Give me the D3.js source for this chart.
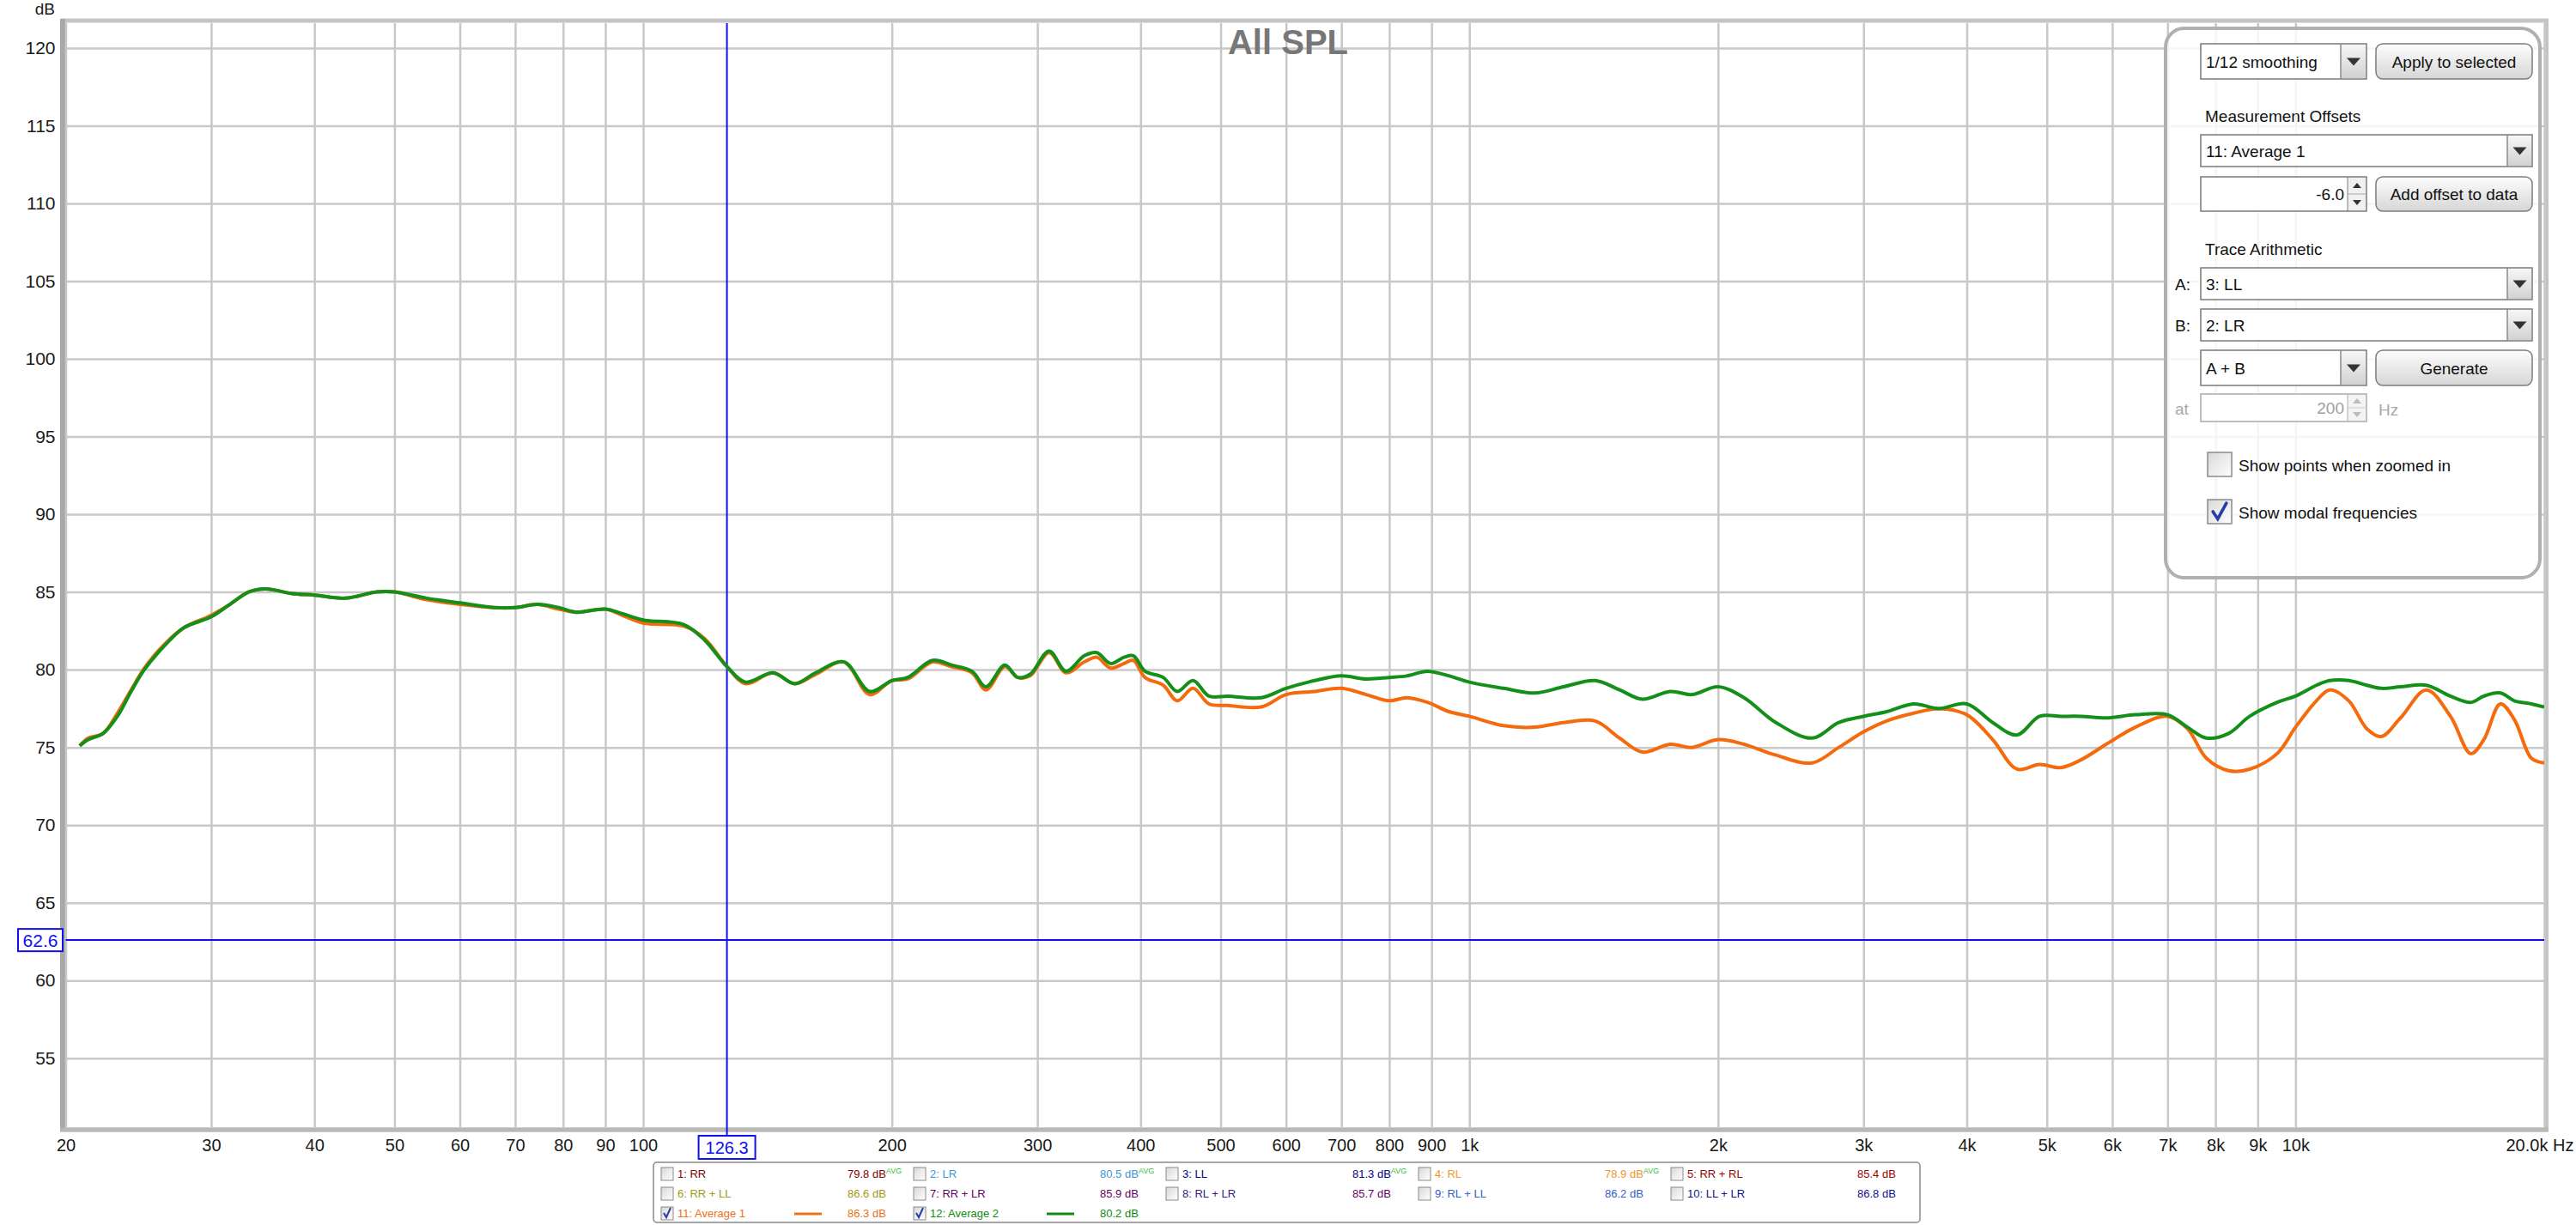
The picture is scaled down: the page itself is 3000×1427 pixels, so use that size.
<!DOCTYPE html>
<html><head><meta charset="utf-8">
<script src="https://cdn.jsdelivr.net/npm/d3@7"></script>
<style>
html,body{margin:0;padding:0;background:#fff;}
svg{display:block;font-family:"Liberation Sans",Arial,sans-serif;}
</style></head>
<body>
<svg id="chart" width="3000" height="1427"></svg>
<script>
// ---------------- data ----------------
const freqHz = [20.8,21.3,22.2,23.1,24,24.9,26.3,27.8,30,31.6,33.3,34.9,37.6,40,43.6,47.6,50,54.7,60,66,70,74.5,79,83,90,94.4,100,112,118.7,126.3,133,143.6,152.6,161.7,175,188,200,209,224,236,250,260,274,284,294,310,325,342,354,368,382,392,405,426,443,463,484,510,560,600,650,700,750,800,840,890,945,1000,1100,1200,1300,1420,1520,1620,1750,1860,2000,2150,2350,2600,2800,3000,3200,3450,3700,4000,4300,4600,4900,5200,5500,5900,6400,7000,7400,7800,8300,8800,9500,10000,10600,11000,11600,12200,12700,13400,14400,15400,16300,16900,17700,18400,19300,20000];
const average1Db = [75.1,75.6,75.9,77.2,78.7,80.1,81.6,82.7,83.5,84.2,85.0,85.2,84.9,84.8,84.6,85.0,85.0,84.5,84.2,84.0,84.0,84.2,83.9,83.7,83.9,83.5,83.0,82.8,82.0,80.2,79.1,79.8,79.1,79.7,80.5,78.4,79.3,79.4,80.5,80.2,79.8,78.7,80.2,79.5,79.6,81.1,79.8,80.5,80.8,80.1,80.4,80.6,79.5,79.0,78.0,78.8,77.8,77.7,77.6,78.4,78.6,78.8,78.4,78.0,78.2,77.9,77.3,77.0,76.4,76.3,76.6,76.7,75.6,74.7,75.2,75.0,75.5,75.2,74.5,74.0,75.0,76.0,76.7,77.2,77.5,77.1,75.5,73.6,73.9,73.7,74.2,75.2,76.3,77.0,76.2,74.3,73.5,73.6,74.6,76.3,78.0,78.7,78.0,76.2,75.7,76.9,78.7,77.0,74.6,75.5,77.8,76.8,74.3,74.0];
const average2Db = [75.1,75.5,75.9,77.0,78.6,80.0,81.5,82.7,83.4,84.2,85.0,85.2,84.9,84.8,84.6,85.0,85.0,84.6,84.3,84.0,84.0,84.2,84.0,83.7,83.9,83.6,83.2,82.9,81.9,80.2,79.2,79.8,79.1,79.8,80.5,78.6,79.3,79.5,80.6,80.3,79.9,78.9,80.3,79.5,79.7,81.2,79.9,80.9,81.1,80.4,80.8,80.9,79.9,79.5,78.6,79.3,78.3,78.3,78.2,78.8,79.3,79.6,79.4,79.5,79.6,79.9,79.6,79.2,78.8,78.5,78.9,79.3,78.7,78.1,78.6,78.4,78.9,78.2,76.6,75.6,76.6,77.0,77.3,77.8,77.5,77.8,76.6,75.8,77.0,77.0,77.0,76.9,77.1,77.1,76.3,75.6,75.9,77.0,77.9,78.3,79.0,79.3,79.3,79.0,78.8,78.9,79.0,78.3,77.9,78.3,78.5,78.0,77.8,77.6];

const yTicks = [55,60,65,70,75,80,85,90,95,100,105,110,115,120];
const xTicks = [20,30,40,50,60,70,80,90,100,200,300,400,500,600,700,800,900,1000,2000,3000,4000,5000,6000,7000,8000,9000,10000,20000];
const xTickLabels = ["20","30","40","50","60","70","80","90","100","200","300","400","500","600","700","800","900","1k","2k","3k","4k","5k","6k","7k","8k","9k","10k","20.0k Hz"];
const cursorHz = 126.3;
const cursorDb = 62.6;
const chartTitle = "All SPL";

const legendLabels = ["1: RR","2: LR","3: LL","4: RL","5: RR + RL","6: RR + LL","7: RR + LR","8: RL + LR","9: RL + LL","10: LL + LR","11: Average 1","12: Average 2"];
const legendValues = ["79.8 dB","80.5 dB","81.3 dB","78.9 dB","85.4 dB","86.6 dB","85.9 dB","85.7 dB","86.2 dB","86.8 dB","86.3 dB","80.2 dB"];
const legendAvg = [true,true,true,true,false,false,false,false,false,false,false,false];
const legendChecked = [false,false,false,false,false,false,false,false,false,false,true,true];
const legendColors = ["#800000","#3a96d8","#000080","#f0962a","#990000","#a09a10","#660066","#3a1a80","#3060c8","#101090","#e8731a","#128a12"];
const legendValueColors = ["#800000","#3a96d8","#000080","#f0962a","#990000","#a09a10","#660066","#660066","#3060c8","#101090","#e8731a","#128a12"];

// ---------------- layout ----------------
const svg = d3.select("#chart");
const plot = {left:76.5, right:2963, top:27, bottom:1313};
const x = d3.scaleLog().domain([20,20000]).range([plot.left, plot.right]);
const y = d3.scaleLinear().domain([55,120]).range([1232.7, 56]);

const defs = svg.append("defs");
const g1 = defs.append("linearGradient").attr("id","btnGrad").attr("x1",0).attr("y1",0).attr("x2",0).attr("y2",1);
g1.append("stop").attr("offset","0%").attr("stop-color","#fdfdfd");
g1.append("stop").attr("offset","100%").attr("stop-color","#d6d6d6");
const g2 = defs.append("linearGradient").attr("id","arrGrad").attr("x1",0).attr("y1",0).attr("x2",0).attr("y2",1);
g2.append("stop").attr("offset","0%").attr("stop-color","#f6f6f6");
g2.append("stop").attr("offset","100%").attr("stop-color","#d2d2d2");
const g3 = defs.append("linearGradient").attr("id","cbGrad").attr("x1",0).attr("y1",0).attr("x2",1).attr("y2",1);
g3.append("stop").attr("offset","0%").attr("stop-color","#d8d8d8");
g3.append("stop").attr("offset","100%").attr("stop-color","#ffffff");
defs.append("clipPath").attr("id","plotClip").append("rect")
  .attr("x",plot.left).attr("y",plot.top).attr("width",plot.right-plot.left).attr("height",plot.bottom-plot.top);

// frame
svg.append("rect").attr("x",plot.left-3.5).attr("y",plot.top-3).attr("width",plot.right-plot.left+6).attr("height",plot.bottom-plot.top+6)
  .attr("fill","none").attr("stroke","#c4c4c4").attr("stroke-width",5);
svg.append("line").attr("x1",plot.left-3.5).attr("x2",plot.left-3.5).attr("y1",plot.top-5).attr("y2",plot.bottom+5)
  .attr("stroke","#a8a8a8").attr("stroke-width",6);
svg.append("line").attr("x1",plot.left-6).attr("x2",plot.right+5).attr("y1",plot.bottom+3).attr("y2",plot.bottom+3)
  .attr("stroke","#b8b8b8").attr("stroke-width",5);

// y axis + horizontal grid
const yAxis = svg.append("g").attr("transform",`translate(${plot.left},0)`)
  .call(d3.axisLeft(y).tickValues(yTicks).tickSize(-(plot.right-plot.left)).tickPadding(12).tickFormat(d3.format("d")));
yAxis.select(".domain").remove();
yAxis.selectAll(".tick line").attr("stroke","#c8c8c8").attr("stroke-width",2.5);
yAxis.selectAll(".tick text").attr("font-size",21).attr("fill","#1a1a1a").attr("font-family","Liberation Sans, Arial, sans-serif");

// x axis + vertical grid
const xAxis = svg.append("g").attr("transform",`translate(0,${plot.bottom})`)
  .call(d3.axisBottom(x).tickValues(xTicks).tickSize(-(plot.bottom-plot.top)).tickPadding(14)
    .tickFormat((d,i)=>xTickLabels[i]));
xAxis.select(".domain").remove();
xAxis.selectAll(".tick line").attr("stroke","#c8c8c8").attr("stroke-width",2.5);
xAxis.selectAll(".tick text").attr("font-size",20).attr("fill","#1a1a1a").attr("font-family","Liberation Sans, Arial, sans-serif");
xAxis.selectAll(".tick").filter(d=>d===20000).select("text").attr("text-anchor","start").attr("dx",-45);

// dB unit
svg.append("text").attr("x",64).attr("y",17).attr("text-anchor","end").attr("font-size",19).attr("fill","#1a1a1a").text("dB");

// title
svg.append("text").attr("x",1500).attr("y",63).attr("text-anchor","middle").attr("font-size",40).attr("font-weight","bold")
  .attr("fill","#777777").text(chartTitle);

// cursors
const cx = x(cursorHz), cy = y(cursorDb);
svg.append("line").attr("x1",plot.left).attr("x2",plot.right).attr("y1",cy).attr("y2",cy).attr("stroke","#1010f0").attr("stroke-width",2);
svg.append("line").attr("x1",cx).attr("x2",cx).attr("y1",plot.top).attr("y2",1323).attr("stroke","#1010f0").attr("stroke-width",2);
svg.append("rect").attr("x",cx-33).attr("y",1323).attr("width",66).attr("height",27).attr("fill","#fff").attr("stroke","#1010f0").attr("stroke-width",2);
svg.append("text").attr("x",cx).attr("y",1344).attr("text-anchor","middle").attr("font-size",20).attr("fill","#1010f0").text(cursorHz.toFixed(1));
svg.append("rect").attr("x",21).attr("y",cy-13).attr("width",52).attr("height",26).attr("fill","#fff").attr("stroke","#1010f0").attr("stroke-width",2);
svg.append("text").attr("x",47).attr("y",cy+8).attr("text-anchor","middle").attr("font-size",21).attr("fill","#1010f0").text(cursorDb.toFixed(1));

// curves
const line = d3.line().x(d=>x(d[0])).y(d=>y(d[1])).curve(d3.curveCatmullRom.alpha(0.5));
const curves = svg.append("g").attr("clip-path","url(#plotClip)");
curves.append("path").datum(freqHz.map((f,i)=>[f,average1Db[i]])).attr("d",line)
  .attr("fill","none").attr("stroke","#f46a0c").attr("stroke-width",4).attr("stroke-linejoin","round");
curves.append("path").datum(freqHz.map((f,i)=>[f,average2Db[i]])).attr("d",line)
  .attr("fill","none").attr("stroke","#14901a").attr("stroke-width",4).attr("stroke-linejoin","round");

// ---------------- control panel ----------------
const P = svg.append("g").attr("font-size",19).attr("fill","#111");
P.append("rect").attr("x",2522).attr("y",33).attr("width",436).attr("height",640).attr("rx",22)
  .attr("fill","#fff").attr("fill-opacity",0.82).attr("stroke","#b0b0b0").attr("stroke-width",4);

function combo(x0,y0,w,h,arrW,label){
  P.append("rect").attr("x",x0).attr("y",y0).attr("width",w).attr("height",h).attr("fill","#fff").attr("stroke","#7a7a7a").attr("stroke-width",1.5);
  P.append("rect").attr("x",x0+w-arrW).attr("y",y0+1).attr("width",arrW-1).attr("height",h-2).attr("fill","url(#arrGrad)");
  P.append("line").attr("x1",x0+w-arrW).attr("x2",x0+w-arrW).attr("y1",y0).attr("y2",y0+h).attr("stroke","#8a8a8a").attr("stroke-width",1.5);
  const ax = x0+w-arrW/2, ay = y0+h/2;
  P.append("path").attr("d",`M${ax-8},${ay-4}L${ax+8},${ay-4}L${ax},${ay+5}Z`).attr("fill","#333");
  P.append("text").attr("x",x0+6).attr("y",y0+h/2+7).text(label);
}
function button(x0,y0,w,h,label){
  P.append("rect").attr("x",x0).attr("y",y0).attr("width",w).attr("height",h).attr("rx",8).attr("fill","url(#btnGrad)").attr("stroke","#7c7c7c").attr("stroke-width",1.5);
  P.append("text").attr("x",x0+w/2).attr("y",y0+h/2+7).attr("text-anchor","middle").text(label);
}
function spinner(x0,y0,w,h,label,disabled){
  const c = disabled ? "#aaa" : "#7a7a7a";
  P.append("rect").attr("x",x0).attr("y",y0).attr("width",w).attr("height",h).attr("fill","#fff").attr("stroke",c).attr("stroke-width",1.5);
  P.append("rect").attr("x",x0+w-22).attr("y",y0+1).attr("width",21).attr("height",h-2).attr("fill",disabled?"#f4f4f4":"#f0f0f0");
  P.append("line").attr("x1",x0+w-22).attr("x2",x0+w-22).attr("y1",y0).attr("y2",y0+h).attr("stroke",c).attr("stroke-width",1);
  P.append("line").attr("x1",x0+w-22).attr("x2",x0+w).attr("y1",y0+h/2).attr("y2",y0+h/2).attr("stroke",disabled?"#ccc":"#aaa").attr("stroke-width",1);
  const ax = x0+w-11, fc = disabled ? "#bbb" : "#333";
  P.append("path").attr("d",`M${ax-5},${y0+h/4+3}L${ax+5},${y0+h/4+3}L${ax},${y0+h/4-3}Z`).attr("fill",fc);
  P.append("path").attr("d",`M${ax-5},${y0+3*h/4-3}L${ax+5},${y0+3*h/4-3}L${ax},${y0+3*h/4+3}Z`).attr("fill",fc);
  P.append("text").attr("x",x0+w-26).attr("y",y0+h/2+7).attr("text-anchor","end").attr("fill",disabled?"#a0a0a0":"#111").text(label);
}
function checkbox(x0,y0,s,checked){
  P.append("rect").attr("x",x0).attr("y",y0).attr("width",s).attr("height",s).attr("fill","url(#cbGrad)").attr("stroke","#8a8a8a").attr("stroke-width",1.5);
  if(checked){
    P.append("path").attr("d",`M${x0+s*0.22},${y0+s*0.5}L${x0+s*0.42},${y0+s*0.8}L${x0+s*0.78},${y0+s*0.15}`)
      .attr("fill","none").attr("stroke","#2a3aa8").attr("stroke-width",s*0.13).attr("stroke-linecap","round");
  }
}

combo(2563,51,193,41,30,"1/12 smoothing");
button(2767,51,182,41,"Apply to selected");
P.append("text").attr("x",2568).attr("y",142).text("Measurement Offsets");
combo(2563,157,386,37,29,"11: Average 1");
spinner(2563,206,193,40,"-6.0",false);
button(2767,206,182,40,"Add offset to data");
P.append("text").attr("x",2568).attr("y",297).text("Trace Arithmetic");
P.append("text").attr("x",2533).attr("y",338).text("A:");
combo(2563,312,386,37,29,"3: LL");
P.append("text").attr("x",2533).attr("y",386).text("B:");
combo(2563,360,386,37,29,"2: LR");
combo(2563,408,193,41,30,"A + B");
button(2767,408,182,41,"Generate");
P.append("text").attr("x",2533).attr("y",483).attr("fill","#a8a8a8").text("at");
spinner(2563,459,193,32,"200",true);
P.append("text").attr("x",2770).attr("y",484).attr("fill","#a8a8a8").text("Hz");
checkbox(2571,527,28,false);
P.append("text").attr("x",2607).attr("y",549).text("Show points when zoomed in");
checkbox(2571,582,28,true);
P.append("text").attr("x",2607).attr("y",604).text("Show modal frequencies");

// ---------------- legend ----------------
const L = svg.append("g").attr("font-size",13);
L.append("rect").attr("x",761).attr("y",1354).attr("width",1475).attr("height",70).attr("rx",4)
  .attr("fill","#fff").attr("stroke","#8a8a8a").attr("stroke-width",1.5);
const rowY = [1367,1390,1413];
legendLabels.forEach((lab,i)=>{
  const row = Math.floor(i/5), col = i%5;
  const bx = 770 + col*294, cyy = rowY[row];
  L.append("rect").attr("x",bx).attr("y",cyy-7).attr("width",14).attr("height",15).attr("fill","url(#cbGrad)").attr("stroke","#8a8a8a").attr("stroke-width",1);
  if(legendChecked[i]){
    L.append("path").attr("d",`M${bx+3},${cyy}L${bx+6},${cyy+5}L${bx+11},${cyy-6}`).attr("fill","none").attr("stroke","#2a3aa8").attr("stroke-width",2);
    L.append("line").attr("x1",bx+155).attr("x2",bx+187).attr("y1",cyy+1).attr("y2",cyy+1).attr("stroke",legendColors[i]).attr("stroke-width",3);
  }
  L.append("text").attr("x",bx+19).attr("y",cyy+5).attr("fill",legendColors[i]).text(lab);
  const vt = L.append("text").attr("x",bx+217).attr("y",cyy+5).attr("fill",legendValueColors[i]).text(legendValues[i]);
  if(legendAvg[i]){
    vt.append("tspan").attr("dy",-5).attr("font-size",9).attr("fill","#33c033").text("AVG");
  }
});
</script>
</body></html>
